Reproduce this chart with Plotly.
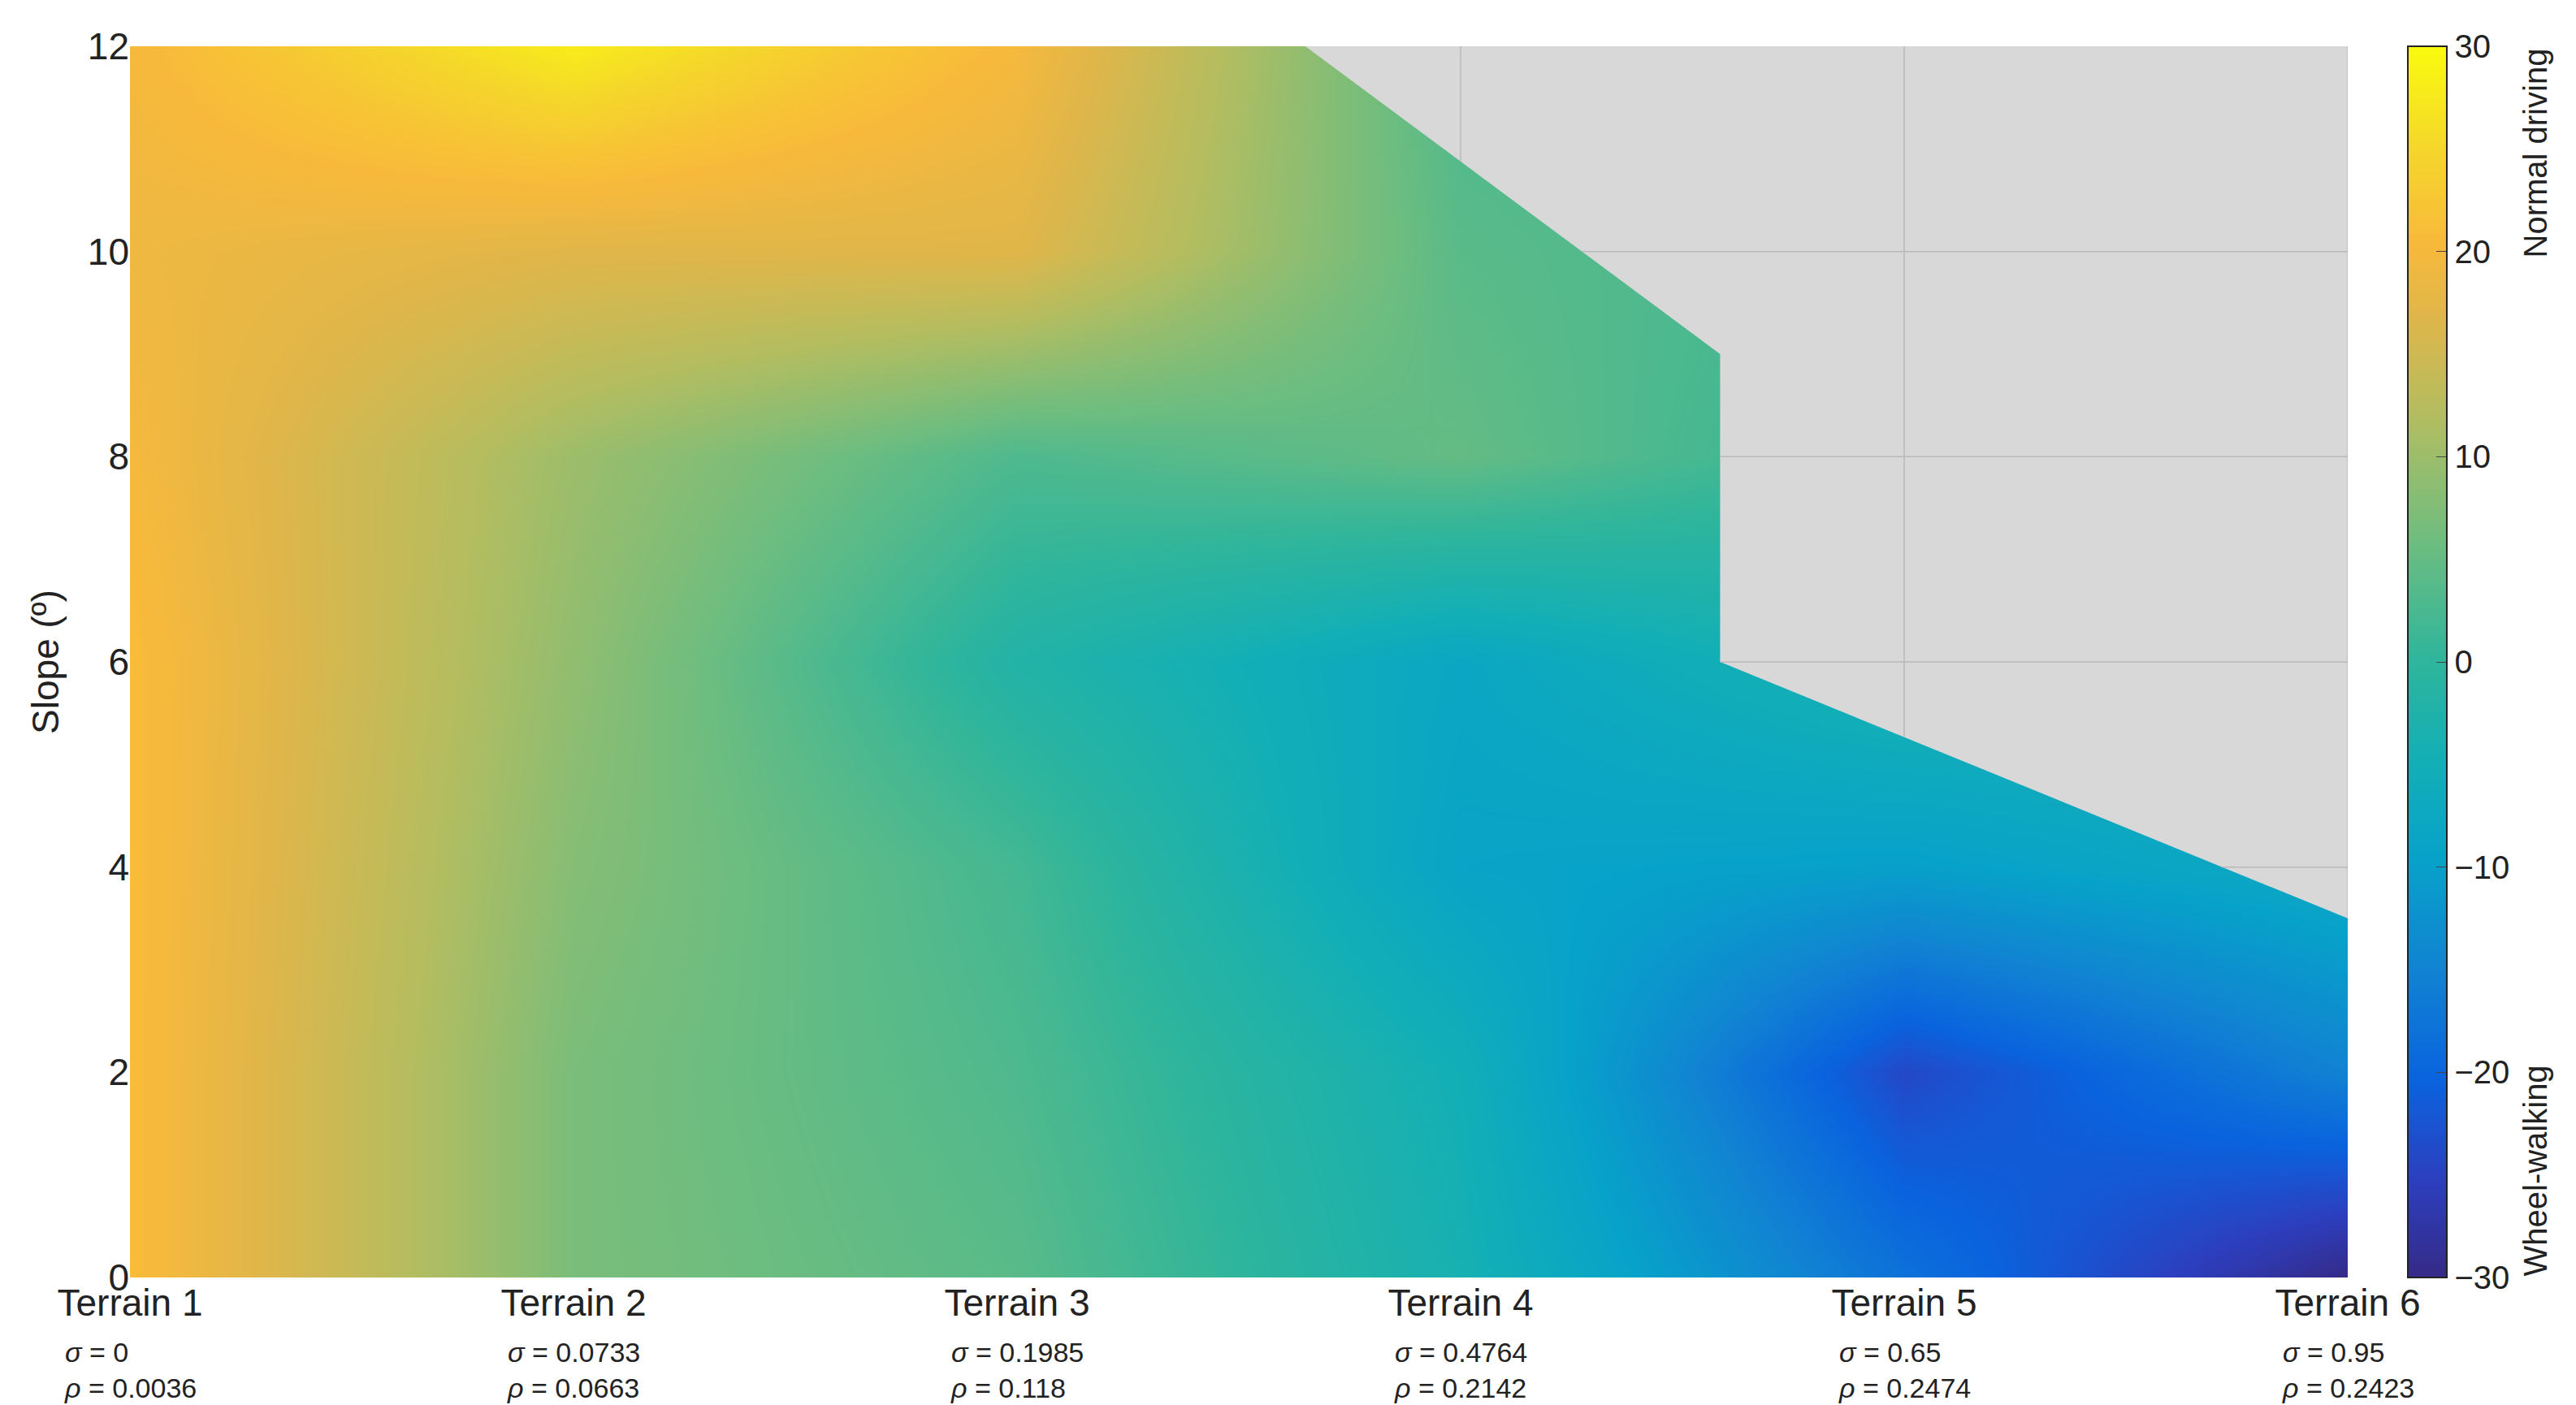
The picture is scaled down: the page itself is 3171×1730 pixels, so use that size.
import plotly.graph_objects as go
import numpy as np

# --- data ---
terrains = [1, 2, 3, 4, 5, 6]
slopes = [0, 2, 4, 6, 8, 10, 12]
sigma = ["0", "0.0733", "0.1985", "0.4764", "0.65", "0.95"]
rho = ["0.0036", "0.0663", "0.118", "0.2142", "0.2474", "0.2423"]

# rows = slopes, cols = terrains (colour value, -30 wheel-walking .. 30 normal driving)
z = [
    [21, 7, 4, -4, -18, -30],
    [21, 7, 3, -5, -24, -15],
    [21, 8, 2, -9, -10, -7],
    [21, 9, -2, -8, -3, -4],
    [20, 10, 3, 5, 0, 0],
    [19, 17, 17, 4, 2, 2],
    [20, 28, 20, 3, 2, 2],
]

# edge of feasible region (above it: no data)
limit_x = [1, 3.65, 4.585, 4.585, 6]
limit_y = [12, 12, 9, 6, 3.5]

parula = [
    [0.0, "#352a87"], [0.08, "#2c3fbf"], [0.16, "#0a63de"], [0.25, "#1183d2"],
    [0.34, "#07a2c9"], [0.42, "#13afb6"], [0.5, "#2eb59c"], [0.6, "#6fbd7f"],
    [0.7, "#b3bd60"], [0.78, "#dfb64a"], [0.84, "#f8b93b"], [0.92, "#f5d82a"],
    [1.0, "#f9fb0e"],
]

fig = go.Figure()
fig.add_trace(go.Heatmap(
    x=terrains, y=slopes, z=z, zmin=-30, zmax=30, zsmooth="best",
    colorscale=parula,
    colorbar=dict(
        x=1.027, xanchor="left", xpad=0, ypad=0, y=0, yanchor="bottom", len=1,
        thickness=48, outlinewidth=2, outlinecolor="#222",
        tickvals=[-30, -20, -10, 0, 10, 20, 30], ticks="inside", ticklen=14,
        tickfont=dict(size=40, color="#222"),
    ),
))

# infeasible region in grey
gx = limit_x + [6, 1]
gy = limit_y + [12, 12]
fig.add_trace(go.Scatter(x=gx, y=gy, fill="toself", fillcolor="#d8d8d8",
                         line=dict(width=0), mode="lines", hoverinfo="skip", showlegend=False))
# grid lines inside grey region
for t in terrains[3:]:
    if t < limit_x[2]:
        y0 = np.interp(t, limit_x[:3], limit_y[:3])
    else:
        y0 = np.interp(t, limit_x[3:], limit_y[3:])
    fig.add_trace(go.Scatter(x=[t, t], y=[y0, 12], mode="lines",
                             line=dict(color="#b8b8b8", width=1.5), showlegend=False))
for s in slopes[1:-1]:
    if s < 6:
        x0 = np.interp(-s, [-yy for yy in limit_y[3:]], limit_x[3:])
    elif s <= 9:
        x0 = limit_x[2]
    else:
        x0 = np.interp(-s, [-yy for yy in limit_y[:3]], limit_x[:3])
    fig.add_trace(go.Scatter(x=[x0, 6], y=[s, s], mode="lines",
                             line=dict(color="#b8b8b8", width=1.5), showlegend=False))

annotations = [
    dict(text="Normal driving", x=1.076, y=1, xref="paper", yref="paper",
         textangle=-90, showarrow=False, xanchor="left", yanchor="top", font=dict(size=40)),
    dict(text="Wheel-walking", x=1.076, y=0, xref="paper", yref="paper",
         textangle=-90, showarrow=False, xanchor="left", yanchor="bottom", font=dict(size=40)),
]
for t, s, r in zip(terrains, sigma, rho):
    annotations.append(dict(text=f"<i>σ</i> = {s}<br><i>ρ</i> = {r}", x=t, y=-0.047,
                            xref="x", yref="paper", yanchor="top", showarrow=False,
                            align="left", font=dict(size=34)))

fig.update_layout(
    width=3171, height=1730,
    margin=dict(l=152, r=289, t=49, b=165),
    plot_bgcolor="white", paper_bgcolor="white",
    font=dict(family="Liberation Sans, Arial", color="#222"),
    xaxis=dict(range=[1, 6], tickvals=terrains, ticktext=[f"Terrain {t}" for t in terrains],
               showgrid=False, zeroline=False, tickfont=dict(size=46), ticks="",
               automargin=False),
    yaxis=dict(range=[0, 12], tickvals=slopes, showgrid=False, zeroline=False,
               tickfont=dict(size=46), ticks="", automargin=False,
               title=dict(text="Slope (º)", font=dict(size=46), standoff=20)),
    annotations=annotations,
)

fig.write_html("out.html")
